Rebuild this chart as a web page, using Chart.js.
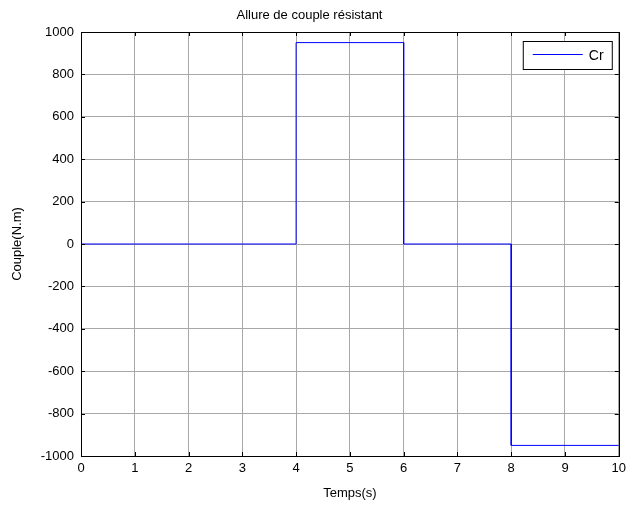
<!DOCTYPE html>
<html>
<head>
<meta charset="utf-8">
<script src="https://cdn.jsdelivr.net/npm/chart.js@4/dist/chart.umd.min.js"></script>
<style>
  html, body { margin: 0; padding: 0; background: #fff; }
  #wrap { width: 631px; height: 507px; }
</style>
</head>
<body>
<div id="wrap"><canvas id="c"></canvas></div>
<script>
// step profile of the load torque
const temps = [0, 4, 4, 6, 6, 8, 8, 10];
const couple = [0, 0, 950, 950, 0, 0, -950, -950];
const xTicks = [0, 1, 2, 3, 4, 5, 6, 7, 8, 9, 10];
const yTicks = [-1000, -800, -600, -400, -200, 0, 200, 400, 600, 800, 1000];

const FONT = 'Liberation Sans, Arial, sans-serif';

// axes frame, inward ticks and the legend box inside the plot
const frame = {
  id: 'frame',
  afterDraw(chart) {
    const { ctx, chartArea: a, scales } = chart;
    ctx.save();
    ctx.strokeStyle = '#000';
    ctx.lineWidth = 1;
    ctx.strokeRect(Math.round(a.left) + 0.5, Math.round(a.top) + 0.5,
      Math.round(a.right - a.left), Math.round(a.bottom - a.top));
    ctx.beginPath();
    xTicks.forEach(v => {
      const x = Math.round(scales.x.getPixelForValue(v)) + 0.5;
      ctx.moveTo(x, a.top); ctx.lineTo(x, a.top + 4);
      ctx.moveTo(x, a.bottom); ctx.lineTo(x, a.bottom - 4);
    });
    yTicks.forEach(v => {
      const y = Math.round(scales.y.getPixelForValue(v)) + 0.5;
      ctx.moveTo(a.left, y); ctx.lineTo(a.left + 4, y);
      ctx.moveTo(a.right, y); ctx.lineTo(a.right - 4, y);
    });
    ctx.stroke();

    // legend
    const lx = a.right - 96, ly = a.top + 9, lw = 89, lh = 28;
    ctx.fillStyle = '#fff';
    ctx.fillRect(lx, ly, lw, lh);
    ctx.strokeRect(lx + 0.5, ly + 0.5, lw, lh);
    ctx.strokeStyle = '#0000ff';
    ctx.beginPath();
    ctx.moveTo(lx + 10, ly + 13.5);
    ctx.lineTo(lx + 60, ly + 13.5);
    ctx.stroke();
    ctx.fillStyle = '#000';
    ctx.font = '14px ' + FONT;
    ctx.textBaseline = 'middle';
    ctx.fillText('Cr', lx + 66, ly + 15);
    ctx.restore();
  }
};

new Chart(document.getElementById('c'), {
  type: 'line',
  data: {
    datasets: [{
      label: 'Cr',
      data: temps.map((t, i) => ({ x: t, y: couple[i] })),
      borderColor: '#0000ff',
      borderWidth: 1,
      pointRadius: 0,
      tension: 0,
      fill: false
    }]
  },
  options: {
    responsive: true,
    maintainAspectRatio: false,
    animation: false,
    layout: { padding: { left: 0, right: 12, top: 0, bottom: 0 } },
    plugins: {
      legend: { display: false },
      tooltip: { enabled: false },
      title: {
        display: true,
        text: 'Allure de couple résistant',
        color: '#000',
        font: { family: FONT, size: 13, weight: 'normal' },
        padding: { top: 8, bottom: 8.4 }
      }
    },
    scales: {
      x: {
        type: 'linear',
        min: 0, max: 10,
        afterFit: s => { s.height = 51; },
        afterBuildTicks: s => { s.ticks = xTicks.map(v => ({ value: v })); },
        ticks: { color: '#000', font: { family: FONT, size: 13 }, padding: 5, maxRotation: 0,
          callback: v => String(v) },
        grid: { color: '#a8a8a8', lineWidth: 1, drawTicks: false },
        border: { display: false },
        title: {
          display: true, text: 'Temps(s)', color: '#000',
          font: { family: FONT, size: 13 }, padding: { top: 0, bottom: 6 }
        }
      },
      y: {
        type: 'linear',
        min: -1000, max: 1000,
        afterFit: s => { s.width = 81; },
        afterBuildTicks: s => { s.ticks = yTicks.map(v => ({ value: v })); },
        ticks: { color: '#000', font: { family: FONT, size: 13 }, padding: 7,
          callback: v => String(v) },
        grid: { color: '#a8a8a8', lineWidth: 1, drawTicks: false },
        border: { display: false },
        title: {
          display: true, text: 'Couple(N.m)', color: '#000',
          font: { family: FONT, size: 13 }, padding: { top: 10, bottom: 0 }
        }
      }
    }
  },
  plugins: [frame]
});
</script>
</body>
</html>
